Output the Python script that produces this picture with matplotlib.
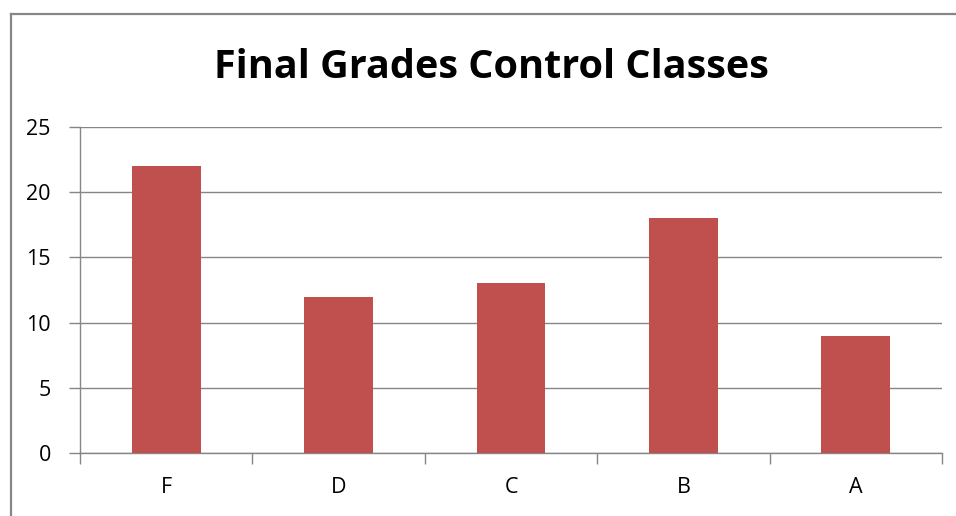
import matplotlib
matplotlib.use("Agg")
import matplotlib.pyplot as plt
from matplotlib.lines import Line2D

categories = ["F", "D", "C", "B", "A"]
values = [22, 12, 13, 18, 9]
yticks = [0, 5, 10, 15, 20, 25]

plt.rcParams['font.family'] = ['Open Sans', 'DejaVu Sans']

fig = plt.figure(figsize=(9.56, 5.16), dpi=100)
ax = fig.add_axes([80/956, 1-453.3/516, (942-80)/956, (453.3-126.7)/516])

x = list(range(len(categories)))
ax.bar(x, values, width=0.40, color="#C0504D", zorder=3)
ax.set_xlim(-0.5, len(categories)-0.5)
ax.set_ylim(0, 25)
ax.set_yticks(yticks)
ax.set_xticks([i - 0.5 for i in range(len(categories)+1)], minor=False)
ax.set_xticklabels([])
ax.set_xticks(x, minor=True)
ax.set_xticklabels(categories, minor=True)
ax.tick_params(axis='x', which='minor', length=0, pad=17, labelsize=15.5)
ax.tick_params(axis='x', which='major', length=8, color="#868686", width=1)
ax.tick_params(axis='y', length=8, color="#868686", width=1, labelsize=15.5, pad=13)
ax.yaxis.grid(True, color="#868686", linewidth=1, zorder=0)
for s in ['top', 'right']:
    ax.spines[s].set_visible(False)
for s in ['left', 'bottom']:
    ax.spines[s].set_color("#868686")
    ax.spines[s].set_linewidth(1)

fig.text(491/956, 1-68/516, "Final Grades Control Classes", ha='center', va='center',
         fontsize=28.5, fontweight='bold')

# outer border
fig.add_artist(Line2D([11/956, 11/956], [0, 1-14/516], transform=fig.transFigure, color="#878787", linewidth=1.6))
fig.add_artist(Line2D([11/956, 1], [1-14/516, 1-14/516], transform=fig.transFigure, color="#878787", linewidth=1.6))

fig.savefig("out.png", dpi=100)
